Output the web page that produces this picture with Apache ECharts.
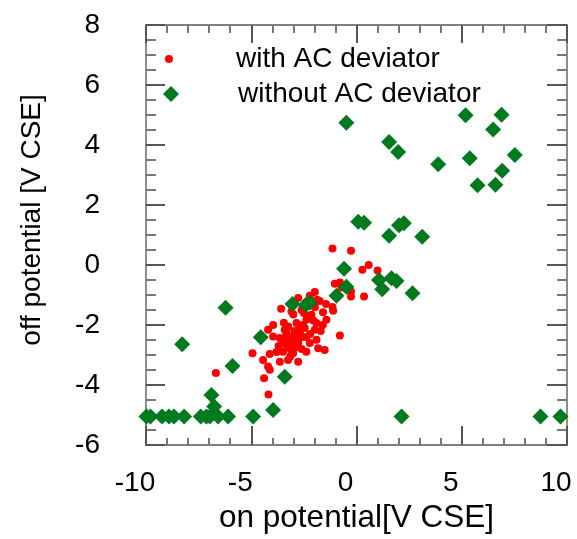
<!DOCTYPE html>
<html>
<head>
<meta charset="utf-8">
<script src="https://cdn.jsdelivr.net/npm/echarts@6/dist/echarts.min.js"></script>
<style>
html,body{margin:0;padding:0;background:#fff;}
#c{width:577px;height:539px;}
</style>
</head>
<body>
<div id="c"></div>
<script>
// ---- data ----
const seriesNames = ['with AC deviator', 'without AC deviator'];
const xTicks = [-10, -5, 0, 5, 10];
const yTicks = [-6, -4, -2, 0, 2, 4, 6, 8];

const withAC = [
  [-1.14, 0.55], [-0.26, 0.48], [0.28, -0.16], [0.58, 0.0], [1.0, -0.18],
  [-1.03, -0.62], [-0.79, -0.58], [-0.71, -0.75], [-0.26, -0.88], [-0.26, -1.05],
  [0.36, -1.05], [-1.98, -0.9], [-2.22, -1.02], [-2.77, -1.1], [-1.87, -1.16],
  [-1.14, -1.4], [-1.11, -1.52], [-1.98, -1.41], [-3.58, -1.46], [-3.09, -1.55],
  [-1.59, -1.57], [-3.96, -2.0], [-3.45, -1.92], [-4.2, -2.16], [-3.41, -2.16],
  [-3.0, -1.65], [-2.61, -1.5], [-2.14, -1.66], [-1.43, -1.82], [-2.38, -1.82],
  [-1.9, -1.93], [-2.85, -1.93], [-2.46, -2.1], [-1.98, -2.16], [-3.96, -2.38],
  [-3.64, -2.43], [-3.33, -2.26], [-3.01, -2.38], [-2.69, -2.26], [-2.38, -2.4],
  [-1.9, -2.49], [-0.79, -2.35], [-3.49, -2.6], [-3.17, -2.71], [-2.77, -2.6],
  [-2.22, -2.6], [-1.82, -2.77], [-1.51, -2.83], [-4.94, -2.94], [-4.44, -3.16],
  [-4.12, -2.96], [-3.64, -3.22], [-3.25, -3.16], [-2.77, -3.22], [-2.38, -2.89],
  [-4.2, -3.38], [-4.12, -3.49], [-4.39, -3.77], [-3.49, -2.89], [-3.01, -2.94],
  [-4.18, -4.31], [-6.68, -3.6],
  [-3.2, -2.5], [-3.0, -2.55], [-2.9, -2.75], [-3.1, -2.85], [-2.6, -2.4],
  [-2.55, -2.0], [-2.3, -1.7], [-2.05, -1.85], [-2.7, -2.05], [-3.3, -2.75],
  [-2.9, -2.45], [-3.15, -3.05], [-3.35, -2.4], [-2.5, -1.6], [-2.0, -1.3],
  [-2.95, -2.2], [-3.25, -2.05], [-2.6, -2.8], [-1.7, -2.2], [-1.6, -2.0],
  [-2.2, -2.3], [-3.7, -2.7], [-3.8, -2.9], [-2.4, -1.25], [-1.75, -1.2],
  [-1.45, -1.3]
];

const withoutAC = [
  [-0.48, 4.74], [5.18, 4.99], [6.89, 5.01], [6.49, 4.52], [1.55, 4.10],
  [1.98, 3.77], [7.52, 3.67], [5.38, 3.56], [3.88, 3.36], [6.92, 3.14],
  [5.75, 2.66], [6.60, 2.68], [0.08, 1.44], [0.36, 1.41], [2.02, 1.33],
  [2.25, 1.39], [1.55, 0.98], [3.12, 0.94], [-0.59, -0.12], [1.07, -0.5],
  [1.66, -0.44], [1.90, -0.53], [1.22, -0.81], [-0.48, -0.72], [-0.95, -1.02],
  [2.66, -0.94], [-6.22, -1.42], [-3.04, -1.30], [-2.41, -1.33], [-2.22, -1.25],
  [-4.55, -2.41], [-8.28, -2.64], [-5.89, -3.36], [-3.41, -3.72], [-6.89, -4.33],
  [-6.76, -4.71], [-3.96, -4.83],
  [-9.98, -5.05], [-9.79, -5.05], [-9.24, -5.05], [-8.91, -5.05], [-8.67, -5.05],
  [-8.19, -5.05], [-7.40, -5.05], [-7.13, -5.05], [-6.97, -5.05], [-6.58, -5.05],
  [-6.10, -5.05], [-4.91, -5.05], [2.14, -5.05], [8.74, -5.05], [9.69, -5.05]
];

const xTitle = 'on potential[V CSE]';
const yTitle = 'off potential [V CSE]';

// ---- chart ----
const FONT = '"Liberation Sans", Arial, Helvetica, sans-serif';
const frameColor = '#808080';
const majorColor = '#555555';
const minorColor = '#777777';
const chart = echarts.init(document.getElementById('c'), null, {renderer: 'canvas'});

function mkX(pos, showLabel, majorLen, minorLen) {
  return {
    type: 'value', position: pos,
    min: xTicks[0], max: xTicks[xTicks.length - 1], interval: xTicks[1] - xTicks[0],
    axisLine: {show: true, onZero: false, lineStyle: {color: frameColor, width: 1.8}},
    axisTick: {show: true, inside: true, length: majorLen, lineStyle: {color: majorColor, width: 2}},
    minorTick: {show: true, splitNumber: 5, length: minorLen, lineStyle: {color: minorColor, width: 2}},
    splitLine: {show: false},
    axisLabel: {show: showLabel, color: '#000', fontSize: 28, fontFamily: FONT, margin: 24,
      padding: [0, 22, 0, 0]},
    name: showLabel ? xTitle : '', nameLocation: 'middle', nameGap: 56,
    nameTextStyle: {color: '#000', fontSize: 31.5, fontFamily: FONT}
  };
}
function mkY(pos, showLabel, majorLen, minorLen) {
  return {
    type: 'value', position: pos,
    min: yTicks[0], max: yTicks[yTicks.length - 1], interval: yTicks[1] - yTicks[0],
    axisLine: {show: true, onZero: false, lineStyle: {color: frameColor, width: 1.8}},
    axisTick: {show: true, inside: true, length: majorLen, lineStyle: {color: majorColor, width: 2}},
    minorTick: {show: true, splitNumber: 4, length: minorLen, lineStyle: {color: minorColor, width: 2}},
    splitLine: {show: false},
    axisLabel: {show: showLabel, color: '#000', fontSize: 28, fontFamily: FONT, margin: 46},
    name: showLabel ? yTitle : '', nameLocation: 'middle', nameGap: 100,
    nameTextStyle: {color: '#000', fontSize: 28, fontFamily: FONT, padding: [0, 0, 0, 30]}
  };
}

const option = {
  backgroundColor: '#fff',
  animation: false,
  grid: {left: 146, right: 10, top: 25, bottom: 93, containLabel: false},
  xAxis: [mkX('bottom', true, 19, 7), mkX('top', false, 18, 8)],
  yAxis: [mkY('left', true, 19, 10), mkY('right', false, 20, 10)],
  legend: [
    {
      data: [{name: seriesNames[0], icon: 'circle'}],
      left: 160, top: 40, itemWidth: 8, itemHeight: 8,
      textStyle: {color: '#000', fontSize: 28, fontFamily: FONT, padding: [0, 0, 0, 58]},
      selectedMode: false
    },
    {
      data: [{name: seriesNames[1], icon: 'diamond'}],
      left: 158, top: 75, itemWidth: 16, itemHeight: 16,
      textStyle: {color: '#000', fontSize: 28, fontFamily: FONT, padding: [0, 0, 0, 54]},
      selectedMode: false
    }
  ],
  series: [
    {
      name: seriesNames[0], type: 'scatter', xAxisIndex: 0, yAxisIndex: 0,
      data: withAC, symbol: 'circle', symbolSize: 8,
      itemStyle: {color: '#ff0000', opacity: 1}
    },
    {
      name: seriesNames[1], type: 'scatter', xAxisIndex: 0, yAxisIndex: 0,
      data: withoutAC, symbol: 'diamond', symbolSize: 16,
      itemStyle: {color: '#007a1f', opacity: 1}
    }
  ]
};
chart.setOption(option);
</script>
</body>
</html>
